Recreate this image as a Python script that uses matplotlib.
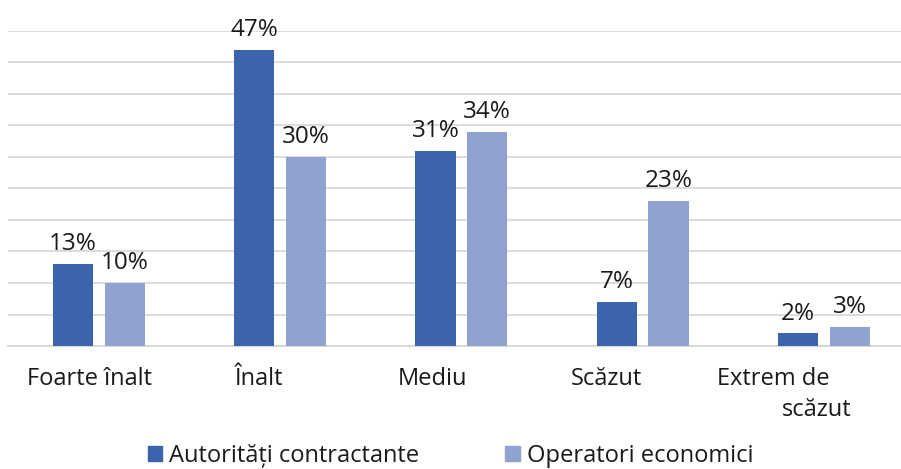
import matplotlib
matplotlib.use("Agg")
import matplotlib.pyplot as plt
from matplotlib.patches import Patch
import numpy as np

plt.rcParams['font.family'] = ['Open Sans', 'DejaVu Sans']

categories = ["Foarte înalt", "Înalt", "Mediu", "Scăzut", "Extrem de\nscăzut"]
series_names = ["Autorități contractante", "Operatori economici"]
autoritati = [13, 47, 31, 7, 2]
operatori = [10, 30, 34, 23, 3]

c_dark = "#3B64AD"
c_light = "#8FA2D0"
grid_c = "#D9D9D9"
txt_c = "#1a1a1a"

fig = plt.figure(figsize=(9.01, 4.69), dpi=100)
ax = fig.add_axes([8.4/901, (469-346)/469, 906/901, (346-31)/469])

x = np.arange(len(categories))
w = 0.221
off = 0.143
b1 = ax.bar(x - off, autoritati, w, color=c_dark, zorder=3)
b2 = ax.bar(x + off, operatori, w, color=c_light, zorder=3)

fs_val = 17.5
fs_cat = 17
for bars, vals in ((b1, autoritati), (b2, operatori)):
    for r, v in zip(bars, vals):
        ax.annotate(f"{v}%", (r.get_x() + r.get_width()/2, r.get_height()),
                    xytext=(0, 10), textcoords="offset points",
                    ha="center", va="baseline", fontsize=fs_val, color=txt_c)

ax.set_xlim(-0.5, len(categories) - 0.5)
ax.set_ylim(0, 50)
ax.set_yticks(np.arange(0, 51, 5))
ax.yaxis.grid(True, color=grid_c, linewidth=1.3, zorder=0)
ax.tick_params(axis='y', left=False, labelleft=False)
ax.set_xticks(x)
ax.tick_params(axis='x', bottom=False, labelbottom=False)
for s in ("top", "right", "left"):
    ax.spines[s].set_visible(False)
ax.spines["bottom"].set_color(grid_c)
ax.spines["bottom"].set_linewidth(1.5)

# category labels (label area of the original is slightly narrower than the plot area)
label_shift = [-0.05, -0.117, -0.157, -0.202]
for i, (cat, dx) in enumerate(zip(categories[:-1], label_shift)):
    ax.annotate(cat, (x[i] + dx, 0), xycoords=("data", "axes fraction"),
                xytext=(0, -15), textcoords="offset points", ha="center", va="top",
                fontsize=fs_cat, color=txt_c)

# wrapped last category label, as in the original layout
line1, line2 = categories[-1].split("\n")
ax.annotate(line1, (x[-1] - 0.28, 0), xycoords=("data", "axes fraction"),
            xytext=(0, -15), textcoords="offset points", ha="center", va="top",
            fontsize=fs_cat, color=txt_c)
ax.annotate(line2, (x[-1] - 0.04, 0), xycoords=("data", "axes fraction"),
            xytext=(0, -37.5), textcoords="offset points", ha="center", va="top",
            fontsize=fs_cat, color=txt_c)

handles = [Patch(color=c_dark), Patch(color=c_light)]
fig.legend(handles, series_names, loc="center", bbox_to_anchor=(0.5, 1 - 456/469),
           ncol=2, frameon=False, fontsize=fs_cat, handlelength=0.6, handleheight=0.6,
           handletextpad=0.3, columnspacing=3.65, labelcolor=txt_c)

fig.savefig("out.png", dpi=100)
